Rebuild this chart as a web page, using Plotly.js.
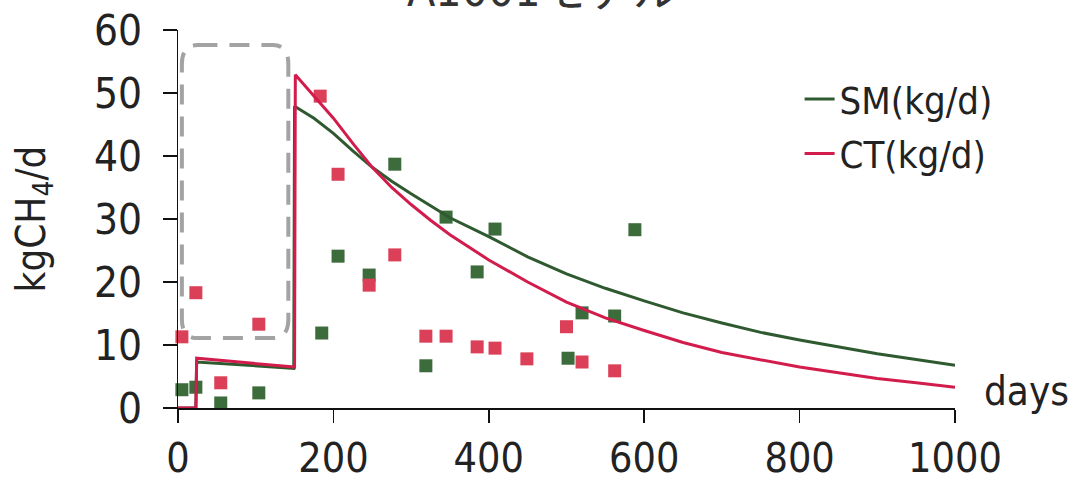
<!DOCTYPE html>
<html>
<head>
<meta charset="utf-8">
<script src="https://cdn.plot.ly/plotly-3.0.1.min.js"></script>
<style>html,body{margin:0;padding:0;background:#fff;}#chart{width:1075px;height:482px;}</style>
</head>
<body>
<div id="chart"></div>
<script>
// Model curves
const smDays = [0, 23, 24, 50, 100, 149, 150, 175, 200, 225, 250, 275, 300, 350, 400, 450, 500, 550, 600, 650, 700, 750, 800, 850, 900, 950, 1000];
const smModel = [0, 0, 7.3, 7.1, 6.7, 6.3, 47.9, 46.0, 43.6, 40.8, 38.2, 36.0, 34.0, 30.2, 27.2, 24.0, 21.3, 19.0, 17.0, 15.1, 13.5, 12.0, 10.8, 9.7, 8.6, 7.7, 6.8];
const ctDays = [0, 23, 24, 50, 100, 150, 151, 175, 200, 225, 250, 275, 300, 325, 350, 400, 450, 500, 550, 600, 650, 700, 750, 800, 850, 900, 950, 1000];
const ctModel = [0, 0, 7.9, 7.6, 7.1, 6.5, 52.9, 49.6, 46.0, 42.0, 38.2, 35.0, 32.3, 29.8, 27.5, 23.5, 20.0, 16.8, 14.3, 12.3, 10.4, 8.8, 7.6, 6.5, 5.6, 4.7, 4.0, 3.3];

// Measured points
const smObsDays = [5, 23, 55, 104, 185, 206, 246, 279, 319, 345, 385, 408, 502, 520, 562, 588];
const smObs = [2.9, 3.3, 0.8, 2.4, 11.9, 24.1, 21.1, 38.7, 6.7, 30.3, 21.6, 28.4, 7.9, 15.1, 14.6, 28.3];
const ctObsDays = [5, 23, 55, 104, 183, 206, 246, 279, 319, 345, 385, 408, 449, 500, 520, 562];
const ctObs = [11.3, 18.3, 4.0, 13.3, 49.5, 37.1, 19.5, 24.3, 11.4, 11.4, 9.7, 9.5, 7.8, 12.9, 7.3, 5.9];

const xTicks = [0, 200, 400, 600, 800, 1000];
const yTicks = [0, 10, 20, 30, 40, 50, 60];

// Highlight box (annotation, data units)
const boxX = [5, 142];
const boxY = [11.1, 57.6];
const rx = 20, ry = 3;

const FONT = '"DejaVu Sans Condensed", "DejaVu Sans", "Noto Sans CJK JP", sans-serif';
const GREEN_LINE = '#2f5a30';
const RED_LINE = '#d21c4c';
const GREEN_MK = '#3c6b3c';
const RED_MK = '#dc4058';

const traces = [
  {x: smObsDays, y: smObs, type: 'scatter', mode: 'markers', showlegend: false, cliponaxis: false,
   marker: {symbol: 'square', size: 13, color: GREEN_MK}},
  {x: ctObsDays, y: ctObs, type: 'scatter', mode: 'markers', showlegend: false, cliponaxis: false,
   marker: {symbol: 'square', size: 13, color: RED_MK}},
  {x: smDays, y: smModel, type: 'scatter', mode: 'lines', name: 'SM(kg/d)', legendgroup: 'a',
   line: {color: GREEN_LINE, width: 3}},
  {x: ctDays, y: ctModel, type: 'scatter', mode: 'lines', name: 'CT(kg/d)', legendgroup: 'b',
   line: {color: RED_LINE, width: 3}}
];

const x0 = boxX[0], x1 = boxX[1], y0 = boxY[0], y1 = boxY[1];
const boxPath = `M ${x0+rx},${y1} L ${x1-rx},${y1} Q ${x1},${y1} ${x1},${y1-ry} L ${x1},${y0+ry} Q ${x1},${y0} ${x1-rx},${y0} L ${x0+rx},${y0} Q ${x0},${y0} ${x0},${y0+ry} L ${x0},${y1-ry} Q ${x0},${y1} ${x0+rx},${y1} Z`;

const layout = {
  width: 1075, height: 482,
  margin: {l: 178, r: 120, t: 30, b: 74},
  paper_bgcolor: '#fff', plot_bgcolor: '#fff',
  font: {family: FONT, color: '#222'},
  title: {text: 'A1001モデル', font: {family: FONT, size: 46, color: '#333'},
          x: 0.505, xanchor: 'center', y: 0.987, yanchor: 'bottom', yref: 'container'},
  showlegend: true,
  legend: {x: 0.80, y: 0.90, xanchor: 'left', yanchor: 'top', bgcolor: 'rgba(0,0,0,0)',
           font: {family: FONT, size: 38, color: '#222'}, tracegroupgap: 2, traceorder: 'grouped'},
  xaxis: {range: [0, 1000], tickvals: xTicks, ticktext: xTicks.map(String),
          showgrid: false, zeroline: false, showline: true, linecolor: '#111', linewidth: 1.5,
          ticks: 'outside', ticklen: 13, tickwidth: 1.5, tickcolor: '#111',
          tickfont: {family: FONT, size: 41, color: '#222'}, ticklabelstandoff: 0},
  yaxis: {range: [0, 60], tickvals: yTicks, ticktext: yTicks.map(String),
          showgrid: false, zeroline: false, showline: true, linecolor: '#111', linewidth: 1.5,
          ticks: 'outside', ticklen: 14, tickwidth: 1.5, tickcolor: '#111',
          tickfont: {family: FONT, size: 42, color: '#222'}, ticklabelstandoff: 12,
          title: {text: 'kgCH<sub>4</sub>/d', font: {family: FONT, size: 40, color: '#222'}, standoff: 36}},
  annotations: [
    {text: 'days', xref: 'paper', yref: 'paper', x: 1.035, y: 0.045, xanchor: 'left', yanchor: 'middle',
     showarrow: false, font: {family: FONT, size: 40, color: '#222'}}
  ],
  shapes: [
    {type: 'path', xref: 'x', yref: 'y', path: boxPath, layer: 'below',
     line: {color: '#a3a3a3', width: 4, dash: '20px,12px'}}
  ]
};

Plotly.newPlot('chart', traces, layout, {displayModeBar: false, staticPlot: true});
</script>
</body>
</html>
